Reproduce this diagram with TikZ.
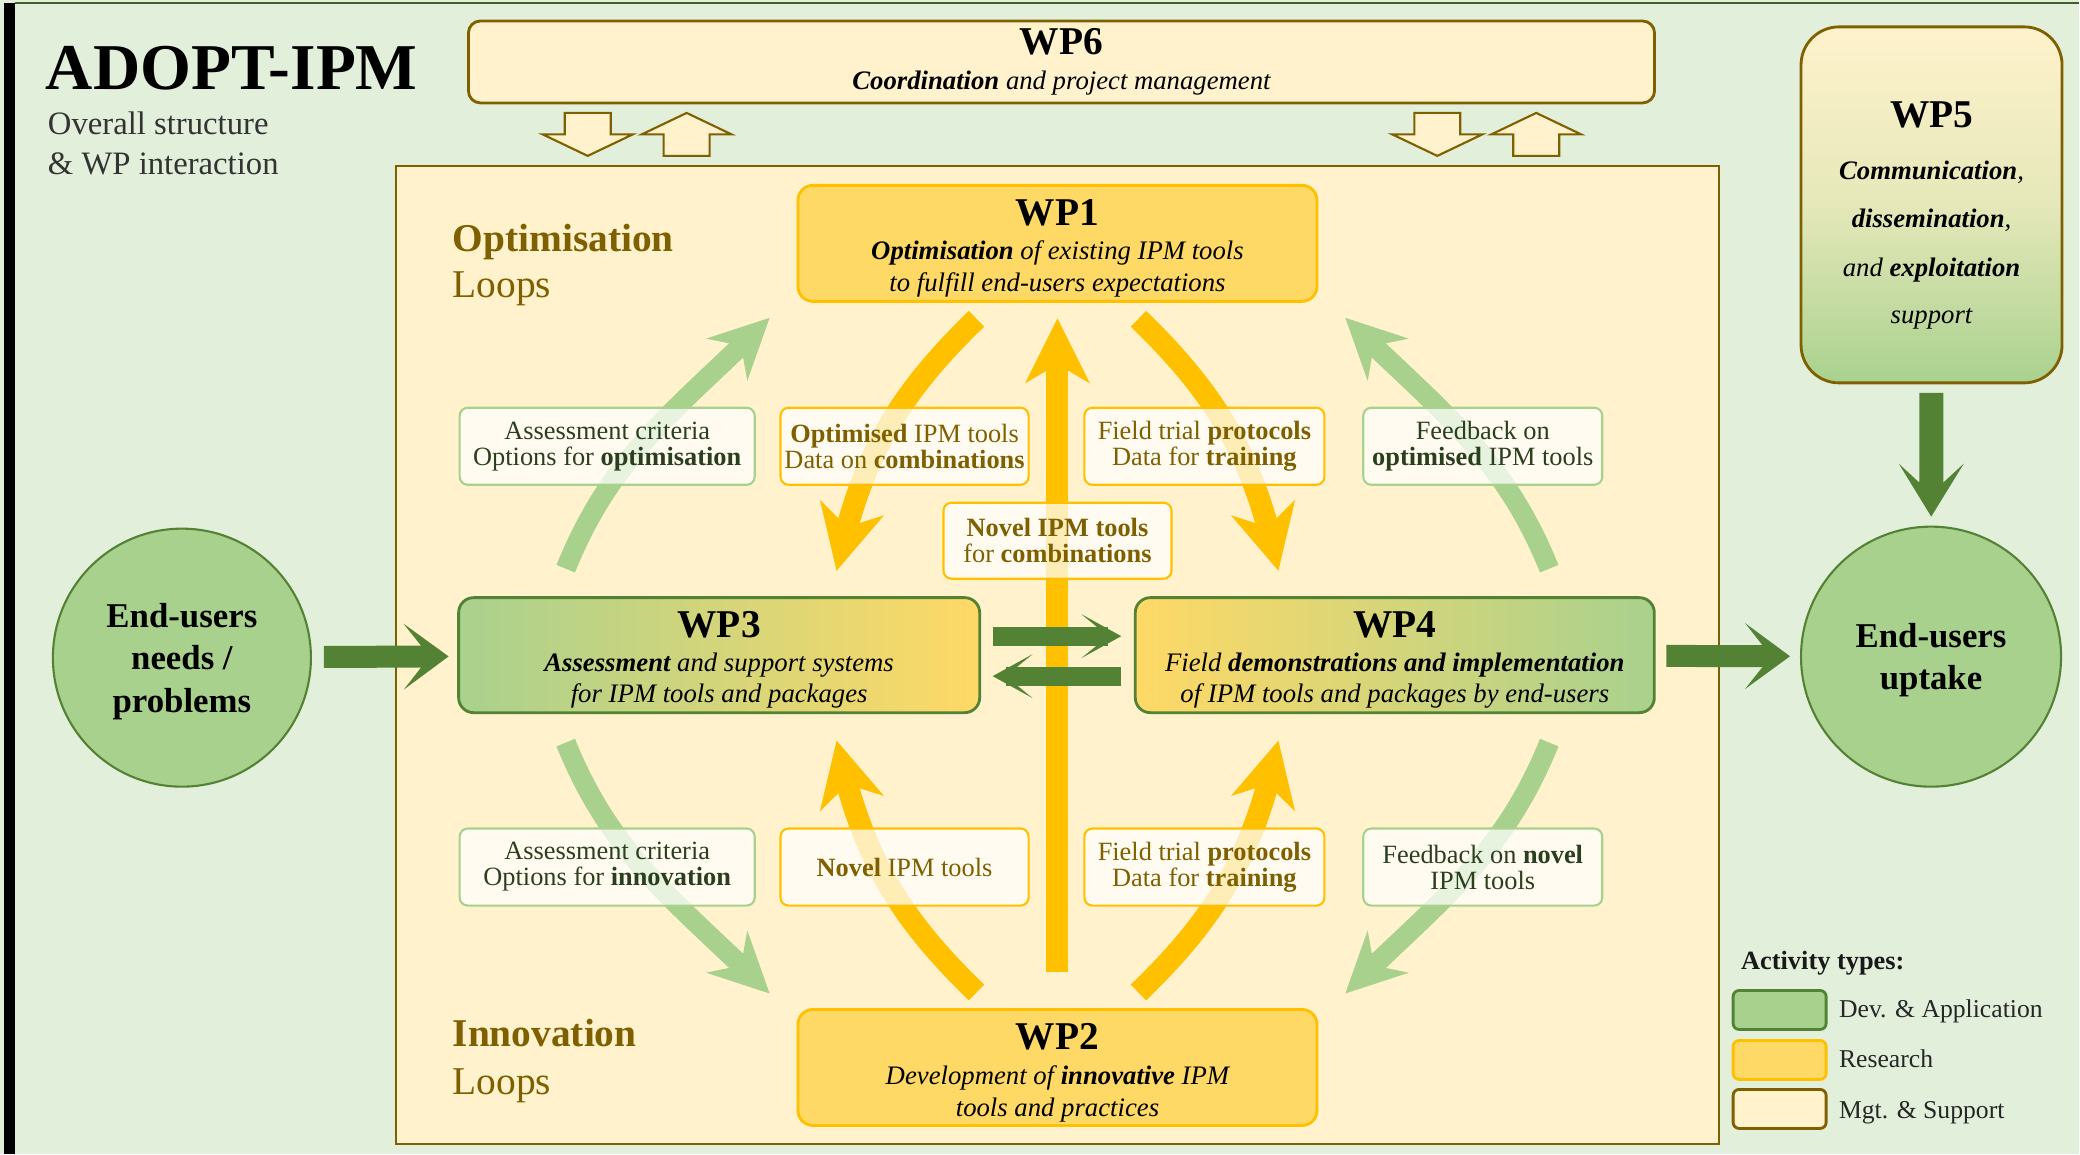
\documentclass[tikz,border=0pt]{standalone}
\usepackage{fontspec}
\setmainfont{Liberation Serif}
\usetikzlibrary{arrows.meta,bending}
\definecolor{bggreen}{HTML}{E2EFDA}
\definecolor{cream}{HTML}{FFF2CC}
\definecolor{gold}{HTML}{FFD966}
\definecolor{amber}{HTML}{FFC000}
\definecolor{lgreen}{HTML}{A9D18E}
\definecolor{dgreen}{HTML}{548235}
\definecolor{ochre}{HTML}{7F6000}
\definecolor{txtgreen}{HTML}{2B3F1E}
\definecolor{framegreen}{HTML}{3F5F2C}
\begin{document}
\begin{tikzpicture}[x=0.01cm,y=0.01cm,
  every node/.style={inner sep=0pt,outer sep=0pt},
  wpbox/.style={line width=0.8pt,rounded corners=0.15cm,minimum width=5.19cm,minimum height=1.16cm},
  wptitle/.style={anchor=base,font=\fontsize{11.2}{13}\selectfont\bfseries},
  wptext/.style={anchor=base,font=\fontsize{7.6}{9}\selectfont\itshape},
  labbox/.style={draw,line width=0.6pt,rounded corners=0.08cm,fill=white,fill opacity=0.72,text opacity=1,
    minimum height=0.77cm,align=center,font=\fontsize{7.5}{7.4}\selectfont},
  grnlab/.style={labbox,draw=lgreen,text=txtgreen},
  gldlab/.style={labbox,draw=amber,text=ochre},
  greenarc/.style={draw=lgreen,line width=0.2cm,-{Stealth[length=0.6cm,width=0.59cm,inset=0.2cm,line width=0pt]}},
  goldarc/.style={draw=amber,line width=0.22cm,-{Stealth[length=0.65cm,width=0.66cm,inset=0.2cm,line width=0pt]}},
  bigarrow/.style={draw=dgreen,line width=0.22cm,-{Stealth[length=0.45cm,width=0.66cm,inset=0.26cm,line width=0pt]}},
  endcircle/.style={circle,draw=dgreen,line width=0.6pt,fill=lgreen,minimum size=2.6cm,align=center,text depth=0pt,
    font=\fontsize{9.9}{12.1}\selectfont\bfseries},
  legbox/.style={line width=0.8pt,rounded corners=0.06cm,minimum width=0.93cm,minimum height=0.39cm},
  legtext/.style={anchor=base west,font=\fontsize{7.3}{8}\selectfont,text=black!85}]
% background and frame
\fill[bggreen] (0,0) rectangle (2080,1155);
\fill[black] (4,0) rectangle (15,1152);
\draw[framegreen,line width=0.6pt] (15,1152) -- (2080,1152);
% title
\node[anchor=base west,font=\fontsize{18.6}{22}\selectfont\bfseries] (title) at (46,1065) {ADOPT-IPM};
\node[anchor=base west,font=\fontsize{9.3}{11}\selectfont,text=black!80] (sub1) at (48,1020) {Overall structure};
\node[anchor=base west,font=\fontsize{9.3}{11}\selectfont,text=black!80] (sub2) at (48,980) {\& WP interaction};
% WP6 with its hollow arrows
\node[wpbox,draw=ochre,fill=cream,minimum width=11.86cm,minimum height=0.82cm,rounded corners=0.12cm] (wp6) at (1062,1093) {};
\node[wptitle] (wp6t) at (1062,1100) {WP6};
\node[wptext] (wp6a) at (1062,1065) {\textbf{Coordination} and project management};
\foreach \x/\d in {588/1,687/-1,1438/1,1537/-1}
  \draw[ochre,line width=0.6pt,fill=cream] ({\x-23},{1020.5+21.5*\d}) -- ({\x+23},{1020.5+21.5*\d})
    -- ({\x+23},1020.5) -- ({\x+45},1020.5) -- (\x,{1020.5-21.5*\d}) -- ({\x-45},1020.5) -- ({\x-23},1020.5) -- cycle;
% main area
\draw[ochre,line width=0.6pt,fill=cream] (396,10) rectangle (1720,989);
\node[anchor=base west,font=\fontsize{11.2}{13}\selectfont\bfseries,text=ochre] (optim) at (453,903) {Optimisation};
\node[anchor=base west,font=\fontsize{11.2}{13}\selectfont,text=ochre] (optloops) at (453,857) {Loops};
\node[anchor=base west,font=\fontsize{11.2}{13}\selectfont\bfseries,text=ochre] (innov) at (453,108) {Innovation};
\node[anchor=base west,font=\fontsize{11.2}{13}\selectfont,text=ochre] (innloops) at (453,60) {Loops};
% work packages
\node[wpbox,draw=amber,fill=gold] (wp1) at (1058,911.5) {};
\node[wptitle] (wp1t) at (1058,929) {WP1};
\node[wptext] (wp1a) at (1058,895) {\textbf{Optimisation} of existing IPM tools};
\node[wptext] (wp1b) at (1058,863) {to fulfill end-users expectations};
\node[wpbox,draw=amber,fill=gold] (wp2) at (1058,87) {};
\node[wptitle] (wp2t) at (1058,105) {WP2};
\node[wptext] (wp2a) at (1058,70) {Development of \textbf{innovative} IPM};
\node[wptext] (wp2b) at (1058,38) {tools and practices};
\node[wpbox,draw=dgreen,left color=lgreen,right color=gold,minimum width=5.21cm,minimum height=1.15cm] (wp3) at (719.5,499.5) {};
\node[wptitle] (wp3t) at (719.5,517) {WP3};
\node[wptext] (wp3a) at (719.5,483) {\textbf{Assessment} and support systems};
\node[wptext] (wp3b) at (719.5,452) {for IPM tools and packages};
\node[wpbox,draw=dgreen,left color=gold,right color=lgreen,minimum height=1.15cm] (wp4) at (1395.5,499.5) {};
\node[wptitle] (wp4t) at (1395.5,517) {WP4};
\node[wptext] (wp4a) at (1395.5,483) {Field \textbf{demonstrations and implementation}};
\node[wptext] (wp4b) at (1395.5,452) {of IPM tools and packages by end-users};
\node[draw=ochre,line width=0.8pt,rounded corners=0.38cm,top color=cream,bottom color=lgreen,middle color=cream!70!lgreen,
  minimum width=2.61cm,minimum height=3.56cm] (wp5) at (1932.5,950) {};
\node[wptitle] (wp5t) at (1932.5,1027) {WP5};
\node[wptext] (wp5a) at (1932.5,975) {\textbf{Communication},};
\node[wptext] (wp5b) at (1932.5,927) {\textbf{dissemination},};
\node[wptext] (wp5c) at (1932.5,878) {and \textbf{exploitation}};
\node[wptext] (wp5d) at (1932.5,831) {support};
% end-users
\node[endcircle,minimum size=2.58cm] (needs) at (182,497) {End-users\\needs /\\problems};
\node[endcircle] (uptake) at (1932,498) {End-users\\uptake};
% loops
\draw[amber,line width=0.22cm,-{Stealth[length=0.65cm,width=0.65cm,inset=0.19cm,line width=0pt]},
  shorten <=0.37cm,shorten >=0.17cm] (wp2) -- (wp1);
\coordinate (s1) at (566,586);  \coordinate (e1) at (770,837);
\coordinate (s2) at (977,836);  \coordinate (e2) at (837,584);
\coordinate (s3) at (1139,836); \coordinate (e3) at (1279,584);
\coordinate (s4) at (1550,586); \coordinate (e4) at (1346,837);
\coordinate (s5) at (566,412);  \coordinate (e5) at (770,161);
\coordinate (s6) at (977,162);  \coordinate (e6) at (837,414);
\coordinate (s7) at (1139,162); \coordinate (e7) at (1279,414);
\coordinate (s8) at (1550,412); \coordinate (e8) at (1346,161);
\draw[greenarc] (s1) to[out=68,in=225] (e1);
\draw[goldarc] (s2) to[out=224,in=78] (e2);
\draw[goldarc] (s3) to[out=316,in=102] (e3);
\draw[greenarc] (s4) to[out=112,in=315] (e4);
\draw[greenarc] (s5) to[out=292,in=135] (e5);
\draw[goldarc] (s6) to[out=136,in=282] (e6);
\draw[goldarc] (s7) to[out=44,in=258] (e7);
\draw[greenarc] (s8) to[out=248,in=45] (e8);
% exchanged items
\node[grnlab,minimum width=2.95cm] (critopt) at (607.5,708.5) {Assessment criteria\\Options for \textbf{optimisation}};
\node[gldlab,minimum width=2.48cm] (optools) at (905,708.5) {\textbf{Optimised} IPM tools\\Data on \textbf{combinations}};
\node[gldlab,minimum width=2.4cm] (protopt) at (1205,708.5) {Field trial \textbf{protocols}\\Data for \textbf{training}};
\node[grnlab,minimum width=2.39cm] (fbopt) at (1483.5,708.5) {Feedback on\\\textbf{optimised} IPM tools};
\node[gldlab,minimum width=2.28cm,minimum height=0.76cm] (combi) at (1058,614) {\textbf{Novel IPM tools}\\for \textbf{combinations}};
\node[grnlab,minimum width=2.95cm] (critinn) at (607.5,287.5) {Assessment criteria\\Options for \textbf{innovation}};
\node[gldlab,minimum width=2.48cm] (novtools) at (905,287.5) {\textbf{Novel} IPM tools};
\node[gldlab,minimum width=2.4cm] (protinn) at (1205,287.5) {Field trial \textbf{protocols}\\Data for \textbf{training}};
\node[grnlab,minimum width=2.39cm] (fbinn) at (1483.5,287.5) {Feedback on \textbf{novel}\\IPM tools};
% main flow
\draw[bigarrow,shorten <=0.13cm,shorten >=0.1cm] (needs) -- (wp3);
\draw[bigarrow,shorten <=0.12cm,shorten >=0.11cm] (wp4) -- (uptake);
\draw[bigarrow,line width=0.24cm,-{Stealth[length=0.53cm,width=0.65cm,inset=0.3cm,line width=0pt]},
  shorten <=0.1cm,shorten >=0.1cm] (wp5) -- (uptake);
\draw[bigarrow,line width=0.19cm,-{Stealth[length=0.4cm,width=0.44cm,inset=0.27cm,line width=0pt]},
  shorten <=0.13cm,shorten >=0.14cm] ([yshift=0.19cm]wp3.east) -- ([yshift=0.19cm]wp4.west);
\draw[bigarrow,line width=0.19cm,-{Stealth[length=0.4cm,width=0.44cm,inset=0.27cm,line width=0pt]},
  shorten <=0.14cm,shorten >=0.13cm] ([yshift=-0.21cm]wp4.west) -- ([yshift=-0.21cm]wp3.east);
% legend
\node[anchor=base west,font=\fontsize{7.5}{9}\selectfont\bfseries,text=black!90] (legtitle) at (1742,185) {Activity types:};
\node[legbox,draw=dgreen,fill=lgreen] (legdev) at (1780.5,144.5) {};
\node[legbox,draw=amber,fill=gold] (legres) at (1780.5,94.5) {};
\node[legbox,draw=ochre,fill=cream] (legmgt) at (1780.5,45.5) {};
\node[legtext] (legdevt) at (1840,137) {Dev. \& Application};
\node[legtext] (legrest) at (1840,87) {Research};
\node[legtext] (legmgtt) at (1840,36) {Mgt. \& Support};
\end{tikzpicture}
\end{document}
